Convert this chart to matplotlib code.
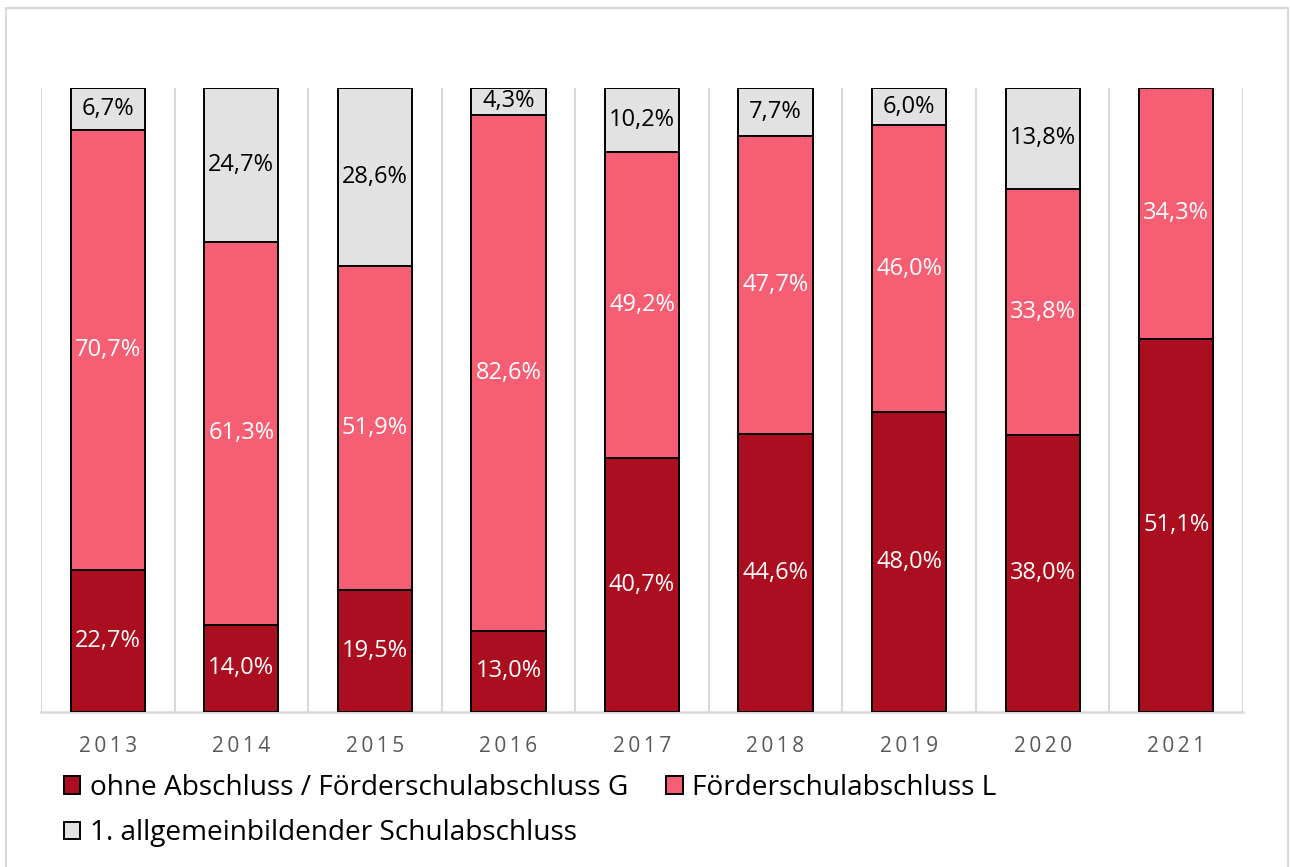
import matplotlib.pyplot as plt
import numpy as np
from matplotlib.patches import Rectangle

plt.rcParams['font.family'] = ['Open Sans', 'DejaVu Sans']

years = ['2013', '2014', '2015', '2016', '2017', '2018', '2019', '2020', '2021']
ohne = [22.7, 14.0, 19.5, 13.0, 40.7, 44.6, 48.0, 38.0, 51.1]
foerder_l = [70.7, 61.3, 51.9, 82.6, 49.2, 47.7, 46.0, 33.8, 34.3]
allg = [6.7, 24.7, 28.6, 4.3, 10.2, 7.7, 6.0, 13.8, 0.0]

series = [
    ('ohne Abschluss / Förderschulabschluss G', ohne, '#AB0E1E', 'white'),
    ('Förderschulabschluss L', foerder_l, '#F55E73', 'white'),
    ('1. allgemeinbildender Schulabschluss', allg, '#E2E2E2', 'black'),
]

fig = plt.figure(figsize=(12.9, 8.67), dpi=100)
ax = fig.add_axes([41 / 1290, 1 - 712 / 867, 1202 / 1290, 624 / 867])

# light frame around the chart (bottom edge runs off the picture)
fig.patches.append(Rectangle((6 / 1290, -0.05), 1282 / 1290, 1.05 - 8 / 867,
                             transform=fig.transFigure, fill=False,
                             edgecolor='#D9D9D9', linewidth=1.5))

x = np.arange(len(years))
totals = np.array(ohne) + np.array(foerder_l) + np.array(allg)
bottom = np.zeros(len(years))
handles = []
for name, vals, color, tcolor in series:
    frac = np.array(vals) / totals
    bars = ax.bar(x, frac, width=0.555, bottom=bottom, color=color,
                  edgecolor='black', linewidth=1.4, label=name, zorder=3)
    handles.append(bars)
    for xi, b, f, v in zip(x, bottom, frac, vals):
        if v > 0:
            ax.text(xi, b + f / 2, f'{v:.1f}'.replace('.', ',') + '%',
                    ha='center', va='center', color=tcolor, fontsize=17, zorder=4)
    bottom = bottom + frac

for k in range(len(years) + 1):
    ax.axvline(k - 0.5, color='#D9D9D9', linewidth=1.5, zorder=1)

ax.set_xlim(-0.5, len(years) - 0.5)
ax.set_ylim(0, 1)
ax.set_yticks([])
ax.set_xticks(x)
ax.set_xticklabels(['\u2009'.join(y) for y in years], color='#595959', fontsize=15)
ax.tick_params(axis='x', length=0, pad=17)
for s in ['top', 'left', 'right']:
    ax.spines[s].set_visible(False)
ax.spines['bottom'].set_color('#D9D9D9')
ax.spines['bottom'].set_linewidth(1.8)

order = [0, 2, 1]
ax.legend([handles[i] for i in order], [series[i][0] for i in order],
          ncol=2, loc='upper left', bbox_to_anchor=(64 / 1290, 1 - 774 / 867),
          bbox_transform=fig.transFigure, frameon=False, fontsize=20.2,
          handlelength=0.58, handleheight=0.58, handletextpad=0.35,
          columnspacing=1.35, labelspacing=0.62, borderaxespad=0,
          borderpad=0)

fig.savefig('out.png', dpi=100)
